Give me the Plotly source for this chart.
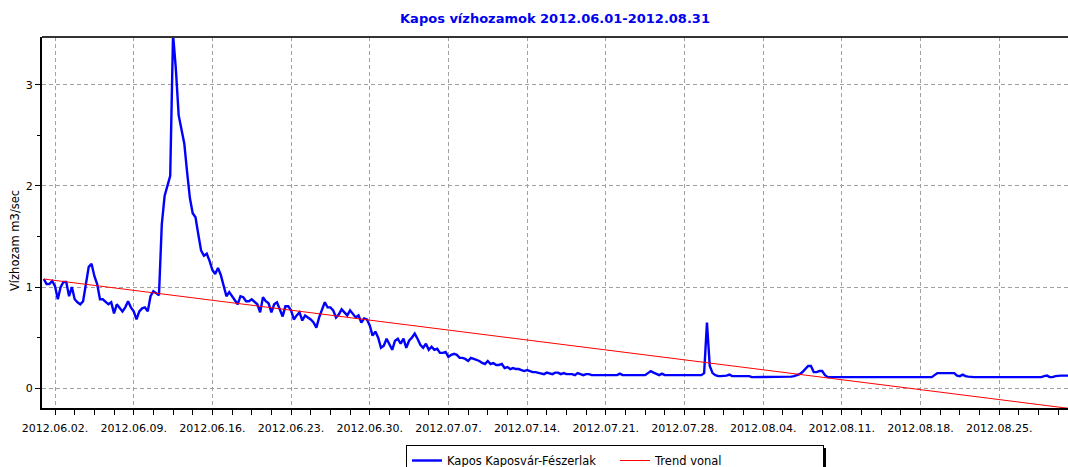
import plotly.graph_objects as go
import pandas as pd

# ---- data (6-hourly flow readings, m3/sec) ----
start_time = "2012-06-01 00:00"
step_hours = 6
flow = [
    1.08, 1.03, 1.03, 1.06, 1.01, 0.88, 1.00, 1.05, 1.05, 0.91,
    1.00, 0.88, 0.85, 0.83, 0.86, 1.01, 1.20, 1.23, 1.11, 1.03,
    0.88, 0.88, 0.85, 0.83, 0.85, 0.74, 0.83, 0.80, 0.76, 0.80,
    0.86, 0.80, 0.76, 0.68, 0.76, 0.79, 0.80, 0.76, 0.91, 0.96,
    0.94, 0.92, 1.62, 1.90, 2.00, 2.10, 3.50, 3.16, 2.70, 2.55,
    2.42, 2.14, 1.88, 1.73, 1.69, 1.52, 1.36, 1.31, 1.33, 1.26,
    1.17, 1.13, 1.19, 1.12, 1.00, 0.91, 0.95, 0.91, 0.88, 0.83,
    0.91, 0.90, 0.86, 0.86, 0.88, 0.85, 0.83, 0.75, 0.90, 0.86,
    0.84, 0.75, 0.83, 0.85, 0.78, 0.71, 0.81, 0.81, 0.77, 0.68,
    0.72, 0.75, 0.67, 0.72, 0.70, 0.68, 0.65, 0.60, 0.70, 0.77,
    0.85, 0.80, 0.80, 0.77, 0.70, 0.73, 0.78, 0.75, 0.72, 0.77,
    0.73, 0.70, 0.72, 0.65, 0.69, 0.68, 0.62, 0.52, 0.56, 0.50,
    0.40, 0.42, 0.49, 0.44, 0.38, 0.47, 0.49, 0.44, 0.49, 0.40,
    0.47, 0.50, 0.54, 0.49, 0.43, 0.40, 0.44, 0.38, 0.41, 0.38,
    0.39, 0.35, 0.35, 0.36, 0.31, 0.33, 0.34, 0.33, 0.30, 0.30,
    0.29, 0.27, 0.30, 0.29, 0.28, 0.27, 0.25, 0.24, 0.27, 0.24,
    0.25, 0.23, 0.23, 0.24, 0.20, 0.21, 0.19, 0.20, 0.19, 0.19,
    0.18, 0.17, 0.18, 0.17, 0.16, 0.16, 0.155, 0.15, 0.14, 0.155,
    0.15, 0.14, 0.155, 0.155, 0.14, 0.15, 0.14, 0.14, 0.14, 0.13,
    0.15, 0.14, 0.13, 0.14, 0.14, 0.13, 0.13, 0.13, 0.13, 0.13,
    0.13, 0.13, 0.13, 0.13, 0.13, 0.145, 0.13, 0.13, 0.13, 0.13,
    0.13, 0.13, 0.13, 0.13, 0.13, 0.15, 0.17, 0.155, 0.14, 0.13,
    0.145, 0.13, 0.13, 0.13, 0.13, 0.13, 0.13, 0.13, 0.13, 0.13,
    0.13, 0.13, 0.13, 0.13, 0.13, 0.15, 0.65, 0.22, 0.15, 0.13,
    0.12, 0.12, 0.12, 0.125, 0.135, 0.12, 0.12, 0.12, 0.12, 0.12,
    0.12, 0.12, 0.11, 0.11, 0.11, 0.11, 0.11, 0.11, 0.11, 0.11,
    0.11, 0.11, 0.11, 0.11, 0.11, 0.11, 0.115, 0.12, 0.13, 0.14,
    0.16, 0.19, 0.22, 0.22, 0.16, 0.16, 0.17, 0.17, 0.13, 0.11,
    0.11, 0.11, 0.11, 0.11, 0.11, 0.11, 0.11, 0.11, 0.11, 0.11,
    0.11, 0.11, 0.11, 0.11, 0.11, 0.11, 0.11, 0.11, 0.11, 0.11,
    0.11, 0.11, 0.11, 0.11, 0.11, 0.11, 0.11, 0.11, 0.11, 0.11,
    0.11, 0.11, 0.11, 0.11, 0.11, 0.11, 0.11, 0.13, 0.15, 0.15,
    0.15, 0.15, 0.15, 0.15, 0.15, 0.125, 0.12, 0.135, 0.12, 0.115,
    0.11, 0.11, 0.11, 0.11, 0.11, 0.11, 0.11, 0.11, 0.11, 0.11,
    0.11, 0.11, 0.11, 0.11, 0.11, 0.11, 0.11, 0.11, 0.11, 0.11,
    0.11, 0.11, 0.11, 0.11, 0.11, 0.11, 0.12, 0.125, 0.11, 0.11,
    0.12, 0.125, 0.125, 0.125, 0.125, 0.125, 0.125, 0.125,
]
trend_times = ["2012-06-01 00:00", "2012-09-01 00:00"]
trend_values = [1.08, -0.21]

series_name = "Kapos Kaposvár-Fészerlak"
trend_name = "Trend vonal"
title_text = "Kapos vízhozamok 2012.06.01-2012.08.31"
y_title = "Vízhozam m3/sec"

times = pd.date_range(start_time, periods=len(flow), freq=f"{step_hours}h")

# ---- layout geometry ----
W, H = 1068, 467
ML, MR, MT, MB = 42, 0, 37, 59
PW = W - ML - MR
PH = H - MT - MB
BOTTOM = MT + PH  # pixel row of the x axis

fig = go.Figure()
fig.add_trace(go.Scatter(x=times, y=flow, mode="lines", name=series_name,
                         line=dict(color="#0000ff", width=2.4)))
fig.add_trace(go.Scatter(x=pd.to_datetime(trend_times), y=trend_values, mode="lines",
                         name=trend_name, line=dict(color="#ff0000", width=1)))

font_family = "DejaVu Sans"
grid = dict(gridcolor="#a0a0a0", griddash="4px,3px", gridwidth=1)

fig.update_layout(
    width=W, height=H,
    margin=dict(l=ML, r=MR, t=MT, b=MB, pad=0, autoexpand=False),
    paper_bgcolor="white", plot_bgcolor="white",
    font=dict(family=font_family, size=11, color="black"),
    title=dict(text=title_text, x=0.5, xref="paper", xanchor="center",
               y=1 - 18 / H, yref="container", yanchor="middle",
               font=dict(family=font_family, size=13, color="#0000ee", weight="bold")),
    showlegend=True,
    legend=dict(orientation="h", x=(406 - ML) / PW, y=-(445 - BOTTOM) / PH,
                xanchor="left", yanchor="top", bgcolor="white",
                bordercolor="black", borderwidth=1,
                font=dict(family=font_family, size=11.5, color="black"),
                entrywidth=163, entrywidthmode="pixels",
                tracegroupgap=0, itemwidth=30),
    xaxis=dict(
        type="date",
        range=["2012-05-31 20:14", "2012-08-31 02:53"],
        tick0="2012-06-02", dtick=7 * 24 * 3600 * 1000,
        tickformat="%Y.%m.%d.",
        ticks="outside", ticklen=5, tickcolor="black", tickwidth=1,
        showline=True, linecolor="black", linewidth=2,
        showgrid=True, zeroline=False,
        ticklabelstandoff=4,
        minor=dict(tick0="2012-06-02", dtick=int(1.75 * 24 * 3600 * 1000),
                   ticks="outside", ticklen=5, tickcolor="black", showgrid=False),
        **grid,
    ),
    yaxis=dict(
        range=[-0.195, 3.472],
        tick0=0, dtick=1,
        ticks="outside", ticklen=5, tickcolor="black", tickwidth=1,
        showline=True, linecolor="black", linewidth=2,
        showgrid=True, zeroline=False,
        minor=dict(dtick=0.5, ticks="outside", ticklen=3, tickcolor="black", showgrid=False),
        **grid,
    ),
)

# top frame line
fig.add_shape(type="line", xref="paper", yref="paper", x0=0, x1=1, y0=1, y1=1,
              line=dict(color="#333333", width=2))
# legend shadow
fig.add_shape(type="rect", xref="paper", yref="paper",
              x0=(823 - ML) / PW, x1=(826 - ML) / PW,
              y0=-(448 - BOTTOM) / PH, y1=-(472 - BOTTOM) / PH,
              fillcolor="black", line=dict(width=0))

# y axis title
fig.add_annotation(text=y_title, xref="paper", yref="paper", x=0, y=(BOTTOM - 241) / PH,
                   xanchor="center", yanchor="middle", xshift=15 - ML, textangle=-90,
                   showarrow=False, font=dict(family=font_family, size=11.5, color="black"))

# remove the default page margin so the figure sits at the window's top-left corner
fig.write_html("out.html", config={"displayModeBar": False},
               post_script="document.body.style.margin='0';")
